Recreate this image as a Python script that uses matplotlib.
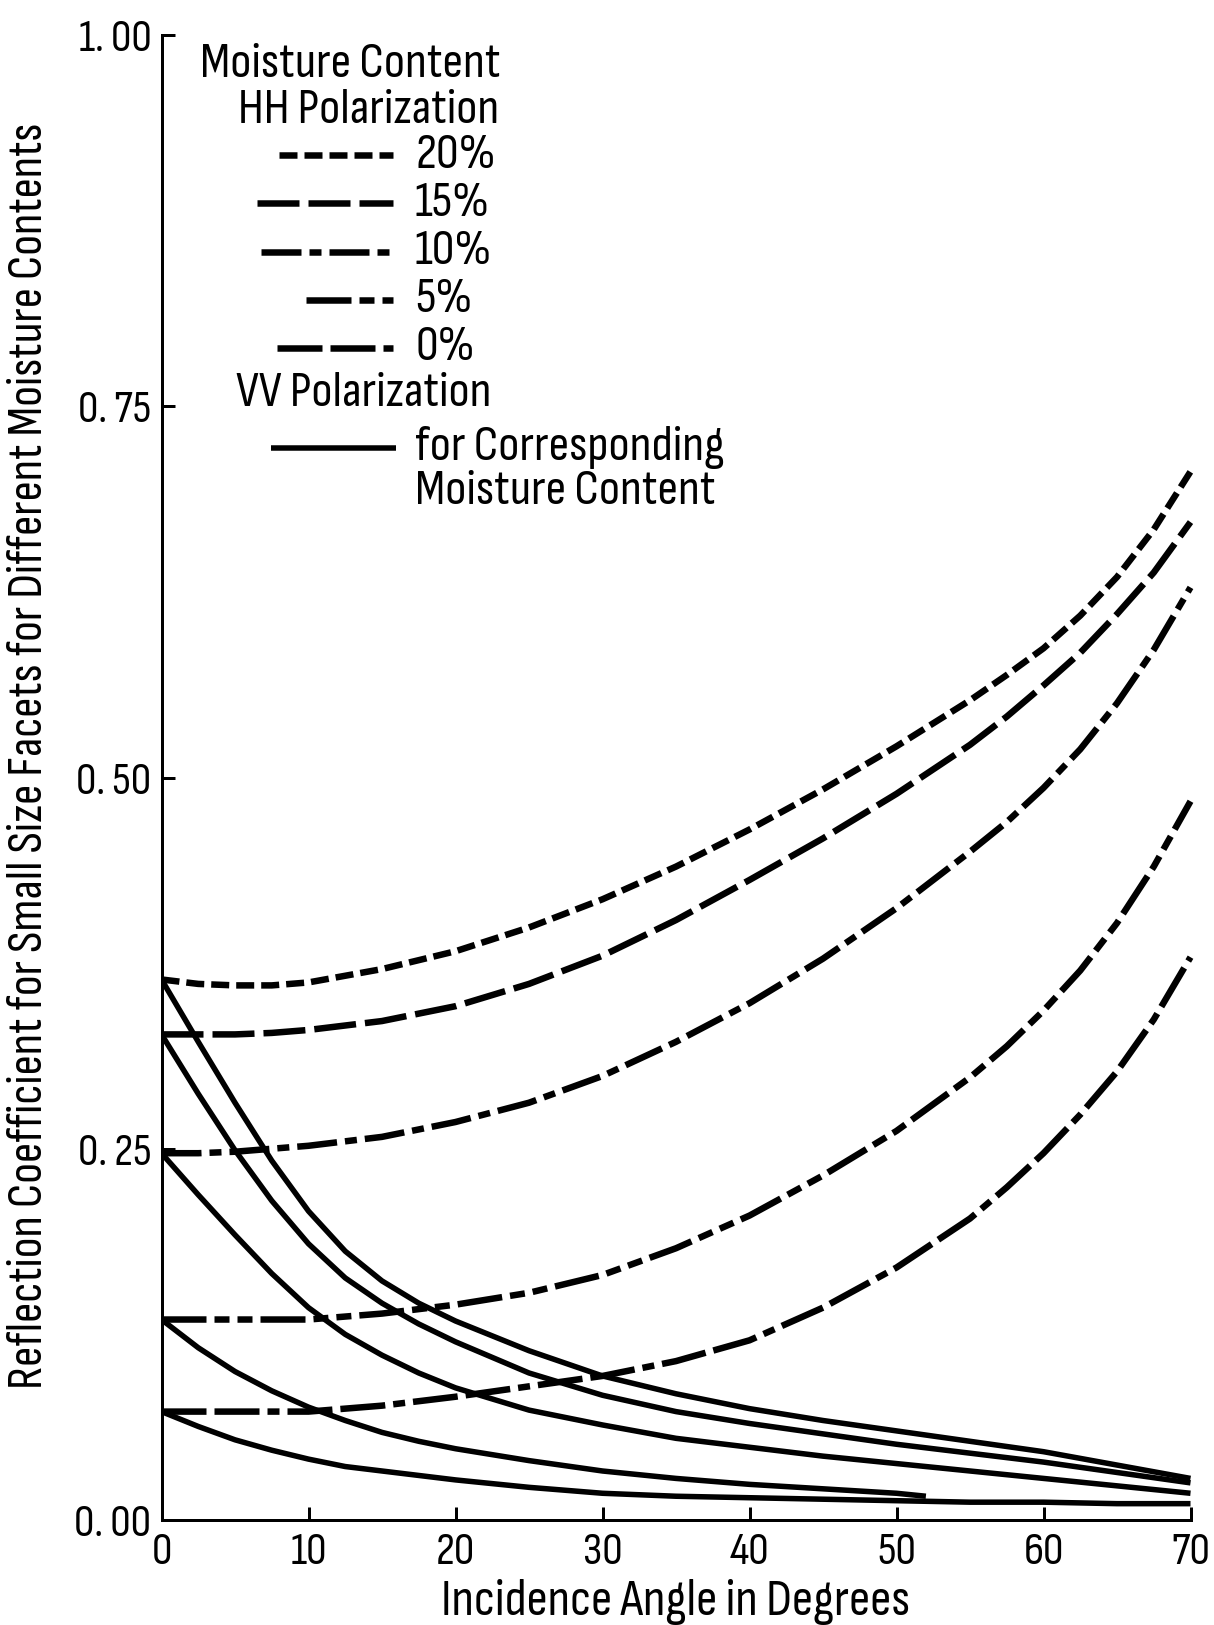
import matplotlib
matplotlib.use("Agg")
import matplotlib.pyplot as plt
from matplotlib.lines import Line2D

plt.rcParams['font.family'] = ['Sofia Sans Condensed', 'DejaVu Sans']
plt.rcParams['lines.scale_dashes'] = False

# ---- data -------------------------------------------------------------
angle_hh = [0, 2.5, 5, 7.5, 10, 15, 20, 25, 30, 35, 40, 45, 50, 55, 57.5, 60, 62.5, 65, 67.5, 70]
hh_20 = [0.364, 0.361, 0.360, 0.360, 0.362, 0.371, 0.383, 0.399, 0.418, 0.440, 0.465, 0.492, 0.521, 0.552, 0.569, 0.587, 0.609, 0.635, 0.667, 0.706]
hh_15 = [0.327, 0.327, 0.327, 0.328, 0.330, 0.336, 0.346, 0.361, 0.380, 0.404, 0.431, 0.459, 0.489, 0.522, 0.541, 0.562, 0.584, 0.610, 0.638, 0.672]
hh_10 = [0.247, 0.247, 0.248, 0.250, 0.252, 0.258, 0.268, 0.281, 0.299, 0.322, 0.348, 0.378, 0.412, 0.450, 0.470, 0.493, 0.519, 0.550, 0.586, 0.628]
hh_5 = [0.135, 0.135, 0.135, 0.135, 0.135, 0.139, 0.145, 0.153, 0.165, 0.183, 0.205, 0.232, 0.262, 0.298, 0.319, 0.343, 0.370, 0.402, 0.440, 0.484]
hh_0 = [0.073, 0.073, 0.073, 0.073, 0.073, 0.077, 0.083, 0.090, 0.097, 0.107, 0.121, 0.143, 0.170, 0.203, 0.224, 0.247, 0.273, 0.302, 0.337, 0.379]

angle_vv = [0, 2.5, 5, 7.5, 10, 12.5, 15, 17.5, 20, 25, 30, 35, 40, 45, 50, 55, 60, 65, 70]
vv_20 = [0.364, 0.322, 0.281, 0.242, 0.208, 0.181, 0.161, 0.146, 0.134, 0.114, 0.097, 0.085, 0.075, 0.067, 0.060, 0.053, 0.046, 0.037, 0.028]
vv_15 = [0.327, 0.287, 0.249, 0.215, 0.186, 0.163, 0.146, 0.132, 0.120, 0.099, 0.084, 0.073, 0.065, 0.058, 0.051, 0.045, 0.039, 0.032, 0.025]
vv_10 = [0.247, 0.219, 0.192, 0.166, 0.143, 0.125, 0.111, 0.099, 0.089, 0.074, 0.064, 0.055, 0.049, 0.043, 0.038, 0.033, 0.028, 0.023, 0.018]
vv_0 = [0.073, 0.063, 0.054, 0.047, 0.041, 0.036, 0.033, 0.030, 0.027, 0.022, 0.018, 0.016, 0.015, 0.014, 0.013, 0.012, 0.012, 0.011, 0.011]

angle_vv_5 = [0, 2.5, 5, 7.5, 10, 12.5, 15, 17.5, 20, 25, 30, 35, 40, 45, 50, 52]
vv_5 = [0.135, 0.116, 0.100, 0.087, 0.076, 0.067, 0.059, 0.053, 0.048, 0.040, 0.033, 0.028, 0.024, 0.021, 0.018, 0.016]

moisture_labels = ['20%', '15%', '10%', '5%', '0%']
x_ticks = [0, 10, 20, 30, 40, 50, 60, 70]
x_tick_labels = ['0', '10', '20', '30', '40', '50', '60', '70']
y_ticks = [0.0, 0.25, 0.50, 0.75, 1.00]
y_tick_labels = ['0. 00', '0. 25', '0. 50', '0. 75', '1. 00']

x_title = 'Incidence Angle in Degrees'
y_title = 'Reflection Coefficient for Small Size Facets for Different Moisture Contents'

# ---- styles -----------------------------------------------------------
PX = 72 / 100.0  # points per pixel at 100 dpi


def pts(*px):
    return tuple(v * PX for v in px)


hh_dashes = [
    pts(18, 7),                       # 20 %
    pts(42, 9),                       # 15 %
    pts(40, 8, 12, 8),                # 10 %
    pts(45, 8, 15, 8, 15, 8),         # 5 %
    pts(45, 8, 45, 8, 12, 8),         # 0 %
]
HH_LW = 6.5 * PX
VV_LW = 5.5 * PX

W, H = 1214, 1625
fig = plt.figure(figsize=(W / 100, H / 100), dpi=100)
renderer = fig.canvas.get_renderer()


def fit_size(text, width_px):
    """Font size at which `text` spans `width_px` pixels."""
    probe = fig.text(0, 0, text, fontsize=20)
    w = probe.get_window_extent(renderer).width
    probe.remove()
    return 20 * width_px / w


TICK_FS = fit_size('0. 75', 73)
KEY_FS = fit_size('Moisture Content', 300)
XT_FS = fit_size(x_title, 468)
YT_FS = fit_size(y_title, 1265)

ax = fig.add_axes([161.5 / W, 1 - 1520 / H, 1029 / W, 1485 / H])

hh_series = [hh_20, hh_15, hh_10, hh_5, hh_0]
for vals, dash in zip(hh_series, hh_dashes):
    ax.plot(angle_hh, vals, color='black', lw=HH_LW, dashes=dash,
            dash_capstyle='butt', clip_on=False)

for vals in [vv_20, vv_15, vv_10, vv_0]:
    ax.plot(angle_vv, vals, color='black', lw=VV_LW, solid_capstyle='butt',
            solid_joinstyle='round')
ax.plot(angle_vv_5, vv_5, color='black', lw=VV_LW, solid_capstyle='butt',
        solid_joinstyle='round')

ax.set_xlim(0, 70)
ax.set_ylim(0, 1.0)
for side in ('top', 'right'):
    ax.spines[side].set_visible(False)
for side in ('left', 'bottom'):
    ax.spines[side].set_linewidth(3 * PX)

ax.set_xticks(x_ticks)
ax.set_xticklabels(x_tick_labels)
ax.set_yticks(y_ticks)
ax.set_yticklabels(y_tick_labels)
ax.tick_params(direction='in', length=13 * PX, width=3 * PX, labelsize=TICK_FS)
ax.tick_params(axis='x', pad=12 * PX)
ax.tick_params(axis='y', pad=10 * PX)


def fx(px):
    return px / W


def fy(py):
    return 1 - py / H


# ---- axis titles ------------------------------------------------------
fig.text(fx(676), fy(1615), x_title, ha='center', va='baseline', fontsize=XT_FS)
fig.text(fx(29), fy(756), y_title, ha='center', va='center', rotation=90,
         fontsize=YT_FS)

# ---- key --------------------------------------------------------------
fig.text(fx(200), fy(77), 'Moisture Content', ha='left', va='baseline', fontsize=KEY_FS)
fig.text(fx(238), fy(123), 'HH Polarization', ha='left', va='baseline', fontsize=KEY_FS)

key_rows = [(279, 155), (257, 203), (261, 252), (306, 300), (277, 348)]
for (x0, yrow), dash, lab in zip(key_rows, hh_dashes, moisture_labels):
    fig.add_artist(Line2D([fx(x0), fx(393)], [fy(yrow), fy(yrow)],
                          transform=fig.transFigure, color='black', lw=HH_LW,
                          dashes=dash, dash_capstyle='butt'))
    fig.text(fx(415), fy(yrow), lab, ha='left', va='center', fontsize=KEY_FS)

fig.text(fx(236), fy(406), 'VV Polarization', ha='left', va='baseline', fontsize=KEY_FS)
fig.add_artist(Line2D([fx(271), fx(396)], [fy(448), fy(448)],
                      transform=fig.transFigure, color='black', lw=VV_LW,
                      solid_capstyle='butt'))
fig.text(fx(415), fy(460), 'for Corresponding', ha='left', va='baseline', fontsize=KEY_FS)
fig.text(fx(415), fy(504), 'Moisture Content', ha='left', va='baseline', fontsize=KEY_FS)

fig.savefig('out.png', dpi=100, facecolor='white')
